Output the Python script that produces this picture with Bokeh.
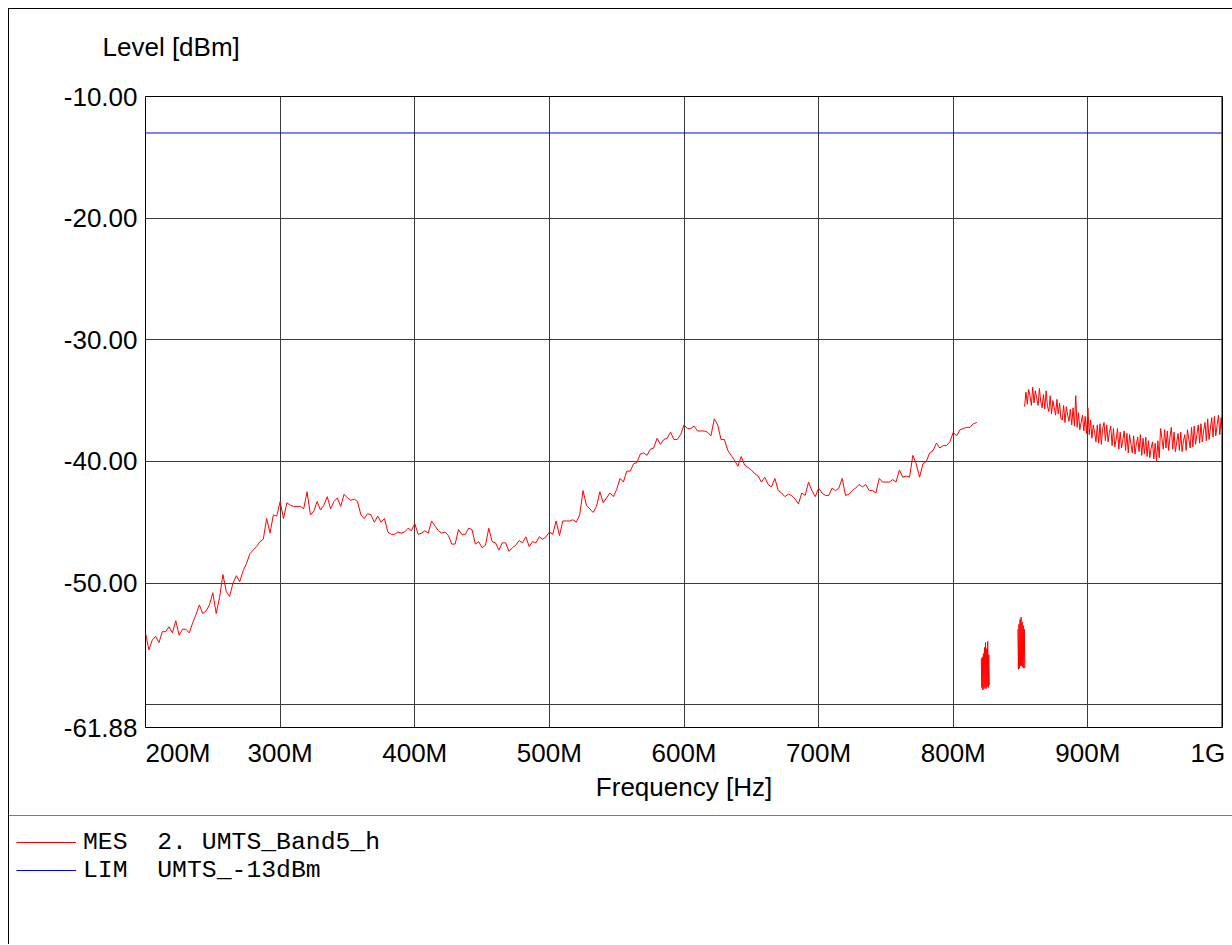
import numpy as np
from bokeh.plotting import figure
from bokeh.layouts import column
from bokeh.models import FixedTicker, PrintfTickFormatter, Label, Legend, LegendItem, Span
from bokeh.embed import file_html
from bokeh.resources import INLINE

# ---------------- data (MHz / dBm) ----------------
sweep1_freq = np.arange(200.0, 820.0, 2.5)
sweep1_level = [
    -54.1, -55.5, -54.7, -54.4, -54.9, -54.0, -54.0, -53.6, -54.1, -53.1,
    -54.3, -53.8, -53.8, -54.1, -53.3, -52.6, -51.8, -52.5, -52.3, -51.8,
    -50.8, -52.5, -51.2, -49.3, -50.7, -51.1, -50.0, -49.4, -49.9, -49.0,
    -48.4, -47.6, -47.3, -47.0, -46.6, -46.4, -44.7, -45.9, -44.4, -44.5,
    -43.3, -44.7, -43.4, -43.6, -43.7, -43.7, -43.7, -43.9, -42.5, -44.4,
    -44.1, -43.3, -44.0, -43.6, -42.9, -43.9, -43.3, -43.0, -43.7, -42.7,
    -43.0, -43.2, -43.1, -43.3, -44.4, -44.7, -44.3, -44.4, -45.0, -44.5,
    -45.0, -44.7, -45.8, -46.0, -46.0, -45.8, -45.9, -45.8, -45.5, -45.7,
    -45.1, -46.0, -45.9, -45.7, -45.9, -44.9, -45.3, -45.7, -45.9, -45.8,
    -46.1, -46.8, -46.8, -45.6, -46.0, -46.0, -45.5, -45.6, -46.8, -46.6,
    -47.1, -46.9, -45.5, -46.6, -46.7, -47.3, -46.7, -46.7, -47.4, -47.1,
    -46.9, -46.5, -46.7, -46.2, -47.0, -46.6, -46.7, -46.2, -46.4, -46.2,
    -45.8, -46.0, -44.9, -46.1, -44.9, -44.9, -44.9, -44.8, -45.0, -44.4,
    -42.4, -43.6, -43.9, -44.2, -43.7, -42.5, -43.4, -43.0, -42.6, -42.9,
    -42.3, -41.4, -41.7, -40.8, -40.8, -40.2, -40.1, -39.4, -39.3, -39.5,
    -39.0, -38.9, -38.1, -38.6, -38.2, -38.1, -37.6, -38.2, -38.2, -37.8,
    -37.0, -37.3, -37.3, -37.1, -37.5, -37.5, -37.5, -37.6, -37.9, -36.5,
    -37.0, -38.2, -38.2, -39.1, -39.5, -39.9, -40.4, -39.6, -40.3, -40.5,
    -40.7, -41.0, -41.2, -41.7, -41.3, -41.9, -42.1, -41.4, -42.4, -42.6,
    -42.9, -42.7, -42.8, -43.1, -43.5, -42.6, -42.8, -41.7, -42.4, -42.9,
    -42.2, -42.6, -42.8, -42.8, -42.2, -42.4, -42.2, -41.4, -42.8, -42.7,
    -42.4, -42.2, -41.9, -42.1, -41.9, -42.4, -42.4, -42.6, -41.4, -41.7,
    -41.7, -41.7, -41.5, -41.7, -40.7, -41.3, -41.2, -41.3, -39.5, -40.2,
    -41.3, -40.2, -40.0, -39.3, -39.1, -38.5, -38.9, -38.7, -38.7, -38.4,
    -37.6, -37.9, -37.4, -37.3, -37.2, -37.2, -36.9, -36.8,
]
burst1_freq = np.arange(820.8, 827.0, 0.4)
burst1_level = [-56.2, -58.6, -56.1, -58.8, -55.8, -58.7, -55.3, -58.6,
                -54.9, -58.7, -55.4, -58.5, -54.8, -58.6, -55.9, -58.4]
burst2_freq = np.arange(848.0, 853.4, 0.4)
burst2_level = [-53.8, -57.1, -53.4, -57.0, -53.0, -56.8, -52.8, -56.8,
                -53.2, -56.9, -53.5, -57.0, -53.8, -57.0]
sweep2_freq = np.arange(853.0, 1001.0, 1.0)
sweep2_level = [
    -35.5, -34.3, -35.3, -34.1, -34.6, -35.4, -33.9, -35.2, -34.2, -34.8,
    -35.4, -34.0, -35.1, -35.6, -34.5, -35.7, -34.2, -35.5, -35.9, -34.6,
    -36.1, -35.0, -35.6, -36.2, -34.9, -36.1, -35.2, -36.5, -36.6, -35.4,
    -36.8, -35.5, -36.2, -36.7, -35.7, -37.0, -35.6, -37.1, -34.6, -37.2,
    -36.0, -37.4, -36.8, -36.2, -37.5, -36.3, -37.7, -35.6, -37.8, -36.6,
    -38.1, -37.0, -37.6, -38.4, -37.0, -38.5, -36.9, -38.6, -37.3, -36.8,
    -38.3, -37.0, -38.4, -37.6, -37.1, -38.7, -37.3, -38.8, -38.2, -37.3,
    -39.0, -37.6, -38.9, -38.2, -37.5, -39.1, -37.7, -39.3, -37.8, -38.6,
    -39.3, -37.9, -39.4, -38.6, -38.0, -39.2, -37.8, -39.5, -38.1, -39.4,
    -38.0, -39.6, -38.3, -39.7, -38.9, -38.4, -39.8, -38.5, -40.0, -38.3,
    -39.7, -37.3, -38.1, -39.0, -37.4, -38.9, -37.5, -39.1, -38.0, -37.2,
    -39.0, -37.6, -39.2, -38.4, -37.7, -39.1, -37.6, -39.2, -38.3, -37.8,
    -39.1, -37.4, -38.2, -38.9, -37.2, -38.8, -37.1, -38.6, -37.8, -37.0,
    -38.5, -36.9, -38.4, -37.5, -36.8, -38.3, -36.5, -38.2, -37.3, -36.4,
    -38.0, -36.3, -37.9, -37.0, -36.2, -37.8, -36.4, -37.5,
]
limit_freq = [200.0, 1000.0]
limit_level = [-13.0, -13.0]

x_tick_values = [200, 300, 400, 500, 600, 700, 800, 900, 1000]
x_tick_labels = ["200M", "300M", "400M", "500M", "600M", "700M", "800M", "900M", "1G"]
y_tick_values = [-61.88, -50.0, -40.0, -30.0, -20.0, -10.0]
y_grid_values = [-60.0, -50.0, -40.0, -30.0, -20.0]

y_title = "Level [dBm]"
x_title = "Frequency [Hz]"
mes_label = "MES  2. UMTS_Band5_h"
lim_label = "LIM  UMTS_-13dBm"

assert len(sweep1_freq) == len(sweep1_level)
assert len(burst1_freq) == len(burst1_level)
assert len(burst2_freq) == len(burst2_level)
assert len(sweep2_freq) == len(sweep2_level)

gap = [np.nan]
mes_x = np.concatenate([sweep1_freq, gap, burst1_freq, gap, burst2_freq, gap, sweep2_freq])
mes_y = np.concatenate([sweep1_level, gap, burst1_level, gap, burst2_level, gap, sweep2_level])

SANS = "Liberation Sans"
MONO = "Liberation Mono"
FS = "26px"
W = 1223
H_TOP = 60


def bare(height, **kw):
    return figure(width=W, height=height, output_backend="svg", toolbar_location=None,
                  x_axis_type=None, y_axis_type=None,
                  min_border_left=0, min_border_right=0, min_border_top=0, min_border_bottom=0,
                  outline_line_color=None, background_fill_color="white",
                  border_fill_color="white", **kw)


# ---------------- header strip: "Level [dBm]" ----------------
p0 = bare(H_TOP, x_range=(0, W), y_range=(H_TOP, 0))
p0.add_layout(Label(x=93, y=22, text=y_title, text_align="left", text_baseline="top",
                    text_font=SANS, text_font_size=FS, text_color="black"))

# ---------------- chart ----------------
p = figure(width=W, height=746,
           x_range=(x_tick_values[0], x_tick_values[-1]),
           y_range=(y_tick_values[0], y_tick_values[-1]),
           output_backend="svg", toolbar_location=None,
           min_border_left=136, min_border_right=10,
           min_border_top=27, min_border_bottom=88,
           background_fill_color="white", border_fill_color="white")

p.outline_line_color = "black"
p.outline_line_width = 1
p.outline_line_alpha = 1.0

r_mes = p.line(mes_x, mes_y, line_color="#ff0000", line_width=1)
r_lim = p.line(limit_freq, limit_level, line_color="#0000ff", line_width=1)

p.add_layout(Span(location=x_tick_values[-1], dimension="height",
                  line_color="black", line_width=2))

# x axis: edge labels padded (no-break spaces) so they sit inside the frame width
NB = "\u00a0"
x_labels_shown = dict(zip([float(v) for v in x_tick_values], x_tick_labels))
x_labels_shown[float(x_tick_values[0])] = NB * 9 + x_tick_labels[0]
x_labels_shown[float(x_tick_values[-1])] = x_tick_labels[-1] + NB
p.xaxis.ticker = FixedTicker(ticks=x_tick_values)
p.xaxis.major_label_overrides = x_labels_shown
p.xaxis.axis_label = x_title
p.xaxis.axis_label_text_font = SANS
p.xaxis.axis_label_text_font_style = "normal"
p.xaxis.axis_label_text_font_size = FS
p.xaxis.axis_label_text_color = "black"
p.xaxis.axis_label_standoff = 1
p.xaxis.major_label_standoff = 10

# y axis
p.yaxis.ticker = FixedTicker(ticks=y_tick_values)
p.yaxis.formatter = PrintfTickFormatter(format="%.2f")
p.yaxis.major_label_standoff = 8

for ax in (p.xaxis, p.yaxis):
    ax.major_label_text_font = SANS
    ax.major_label_text_font_size = FS
    ax.major_label_text_color = "black"
    ax.major_tick_line_color = None
    ax.major_tick_in = 0
    ax.major_tick_out = 0
    ax.minor_tick_line_color = None
    ax.minor_tick_in = 0
    ax.minor_tick_out = 0
    ax.axis_line_color = None

p.xgrid.ticker = FixedTicker(ticks=x_tick_values[1:-1])
p.ygrid.ticker = FixedTicker(ticks=y_grid_values)
p.grid.grid_line_color = "#3a3a3a"
p.grid.grid_line_alpha = 1.0
p.grid.grid_line_width = 1

# ---------------- legend strip ----------------
p2 = bare(129, x_range=(0, 1), y_range=(0, 1), styles={"border-top": "1px solid #7a7a7a"})
p2.min_border_top = 5
lg_mes = p2.line(mes_x, mes_y, line_color="#ff0000", line_width=1)
lg_lim = p2.line(limit_freq, limit_level, line_color="#0000ff", line_width=1)
legend = Legend(items=[LegendItem(label=mes_label, renderers=[lg_mes]),
                       LegendItem(label=lim_label, renderers=[lg_lim])],
                location="top_left", margin=7, padding=0, spacing=0,
                glyph_width=60, glyph_height=26, label_height=26, label_standoff=7,
                label_text_font=MONO, label_text_font_size="24.75px", label_text_color="black",
                border_line_color=None, background_fill_alpha=0)
p2.add_layout(legend)

for f in (p0, p, p2):
    try:
        f.frame_align = False
    except Exception:
        pass

layout = column(p0, p, p2, margin=(8, 0, 0, 8),
                styles={"border-left": "1px solid black", "border-top": "1px solid black"})

open("out.html", "w").write(file_html(layout, INLINE))
